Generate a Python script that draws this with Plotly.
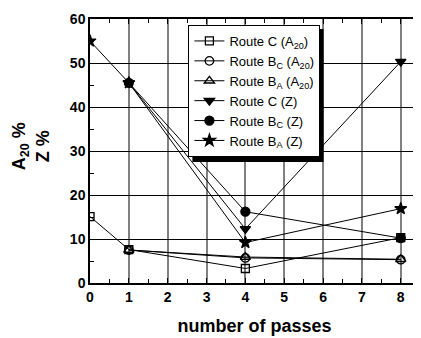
import plotly.graph_objects as go

# Data
passes_c_a20 = [0, 1, 4, 8]
route_c_a20 = [15.1, 7.6, 3.3, 10.3]
passes_bc_a20 = [1, 4, 8]
route_bc_a20 = [7.5, 5.7, 5.3]
passes_ba_a20 = [1, 4, 8]
route_ba_a20 = [7.5, 5.9, 5.4]
passes_c_z = [1, 4, 8]
route_c_z = [45.5, 12.3, 50.3]
passes_bc_z = [1, 4, 8]
route_bc_z = [45.5, 16.2, 10.2]
passes_ba_z = [0, 1, 4, 8]
route_ba_z = [55.0, 45.5, 9.2, 16.9]

series = [
    ("Route C (A<sub>20</sub>)", passes_c_a20, route_c_a20, "square-open", 8),
    ("Route B<sub>C</sub> (A<sub>20</sub>)", passes_bc_a20, route_bc_a20, "circle-open", 8.5),
    ("Route B<sub>A</sub> (A<sub>20</sub>)", passes_ba_a20, route_ba_a20, "triangle-up-open", 9),
    ("Route C (Z)", passes_c_z, route_c_z, "triangle-down", 9),
    ("Route B<sub>C</sub> (Z)", passes_bc_z, route_bc_z, "circle", 9),
    ("Route B<sub>A</sub> (Z)", passes_ba_z, route_ba_z, "star", 9),
]

fig = go.Figure()
for name, xs, ys, sym, sz in series:
    fig.add_trace(go.Scatter(
        x=xs, y=ys, name=name, mode="lines+markers",
        line=dict(color="black", width=1),
        marker=dict(symbol=sym, size=sz, color="black",
                    line=dict(color="black", width=1.3)),
    ))

# page body has an 8px margin: work in reference pixels, shift by OFF
OFF = 8
W, H = 421 - OFF, 338 - OFF
L, T = 90 - OFF, 19 - OFF
pw, ph = 331, 264
R = W - L - pw
B = H - T - ph

def px2x(px):
    return (px - OFF - L) / pw

def py2y(py):
    return (T + ph - (py - OFF)) / ph

# legend shadow
fig.add_shape(type="rect", xref="paper", yref="paper",
              x0=px2x(193), x1=px2x(325), y0=py2y(162), y1=py2y(29),
              fillcolor="black", line=dict(width=0), layer="above")

font = "Liberation Sans, Arial, sans-serif"
fig.update_layout(
    width=W, height=H,
    margin=dict(l=L, r=R, t=T, b=B),
    plot_bgcolor="white", paper_bgcolor="white",
    font=dict(family=font, color="black"),
    showlegend=True,
    legend=dict(x=px2x(189), y=py2y(25), xanchor="left", yanchor="top",
                bgcolor="white", bordercolor="black", borderwidth=1,
                font=dict(size=13, family=font), tracegroupgap=0,
                itemwidth=30),
    xaxis=dict(range=[0, 8.47], dtick=1, showgrid=True, gridcolor="#808080",
               gridwidth=2, zeroline=False, showline=True, linecolor="black",
               linewidth=1.5, mirror="allticks", ticks="inside", ticklen=5,
               tickcolor="black",
               minor=dict(dtick=0.5, ticks="inside", ticklen=4, tickcolor="black",
                          showgrid=False),
               tickfont=dict(size=14, family=font, weight="bold"),
               title=dict(text="<b>number of passes</b>", font=dict(size=18, family=font),
                          standoff=16)),
    yaxis=dict(range=[0, 60], dtick=10, showgrid=True, gridcolor="black",
               gridwidth=1, zeroline=False, showline=True, linecolor="black",
               linewidth=1.5, mirror="allticks", ticks="inside", ticklen=5,
               tickcolor="black",
               minor=dict(dtick=5, ticks="inside", ticklen=4, tickcolor="black",
                          showgrid=False),
               tickfont=dict(size=14, family=font, weight="bold")),
    annotations=[dict(text="<b>A<sub>20</sub> %<br>Z %</b>", xref="paper", yref="paper",
                      x=px2x(30), y=py2y(146), xanchor="center", yanchor="middle",
                      textangle=-90, showarrow=False,
                      font=dict(size=18, family=font))],
)

fig.write_html("out.html")
